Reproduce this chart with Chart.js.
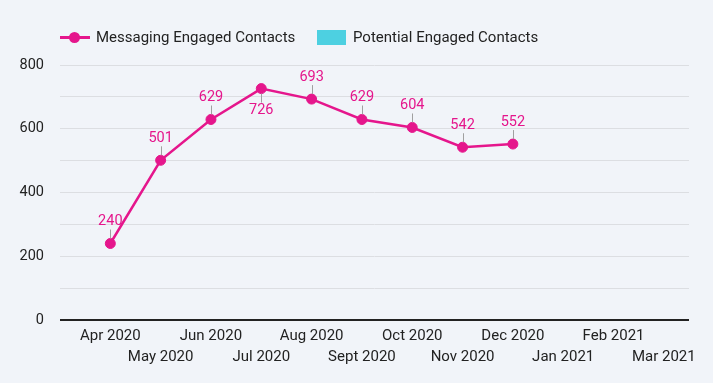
<!DOCTYPE html>
<html>
<head>
<meta charset="utf-8">
<script src="https://cdn.jsdelivr.net/npm/chart.js@4.4.0/dist/chart.umd.min.js"></script>
<style>
  html, body { margin: 0; padding: 0; background: #f1f4f9; }
  #wrap { position: relative; width: 713px; height: 383px; font-family: Roboto, "Noto Sans", sans-serif; }
  #legend { position: absolute; left: 0; top: 27px; height: 20px; font-size: 15px; color: #222; }
  .item { position: absolute; top: 0; white-space: nowrap; line-height: 20px; }
  .line { position: absolute; top: 9px; height: 3px; background: #e5168c; }
  .dot { position: absolute; top: 5px; width: 11px; height: 11px; border-radius: 50%; background: #e5168c; }
  .box { position: absolute; top: 3px; width: 29px; height: 15px; background: #4dd0e1; }
  canvas { position: absolute; left: 0; top: 0; }
</style>
</head>
<body>
<div id="wrap">
  <canvas id="chart" width="713" height="383"></canvas>
  <div id="legend">
    <span class="line" style="left:60px;width:30px"></span>
    <span class="dot" style="left:69px"></span>
    <span class="item" style="left:96px">Messaging Engaged Contacts</span>
    <span class="box" style="left:317px"></span>
    <span class="item" style="left:353px">Potential Engaged Contacts</span>
  </div>
</div>
<script>
// Months on the x axis
const months = ['Apr 2020', 'May 2020', 'Jun 2020', 'Jul 2020', 'Aug 2020', 'Sept 2020',
                'Oct 2020', 'Nov 2020', 'Dec 2020', 'Jan 2021', 'Feb 2021', 'Mar 2021'];
// Messaging Engaged Contacts per month (Apr - Dec 2020)
const messagingEngaged = [240, 501, 629, 726, 693, 629, 604, 542, 552];
// Potential Engaged Contacts (no data shown)
const potentialEngaged = [];
// Labels that sit under the point instead of above it
const labelBelow = [false, false, false, true, false, false, false, false, false];

const pink = '#e5168c';

// Draws value labels with small leader lines
const valueLabels = {
    id: 'valueLabels',
    afterDatasetsDraw(chart) {
        const ctx = chart.ctx;
        const meta = chart.getDatasetMeta(0);
        ctx.save();
        ctx.font = '14.5px Roboto, "Noto Sans", sans-serif';
        ctx.textAlign = 'center';
        ctx.textBaseline = 'middle';
        meta.data.forEach((pt, i) => {
            const dir = labelBelow[i] ? 1 : -1;
            ctx.strokeStyle = '#a0a0a0';
            ctx.lineWidth = 1;
            ctx.beginPath();
            ctx.moveTo(Math.round(pt.x) + 0.5, pt.y + dir * 5);
            ctx.lineTo(Math.round(pt.x) + 0.5, pt.y + dir * 14);
            ctx.stroke();
            ctx.fillStyle = pink;
            ctx.fillText(String(messagingEngaged[i]), pt.x, pt.y + dir * 22);
        });
        ctx.restore();
    }
};

new Chart(document.getElementById('chart'), {
    type: 'line',
    data: {
        datasets: [{
            label: 'Messaging Engaged Contacts',
            data: messagingEngaged.map((v, i) => ({ x: i, y: v })),
            borderColor: pink,
            backgroundColor: pink,
            borderWidth: 2.5,
            pointRadius: 5,
            pointBorderWidth: 1,
            pointHoverRadius: 5,
            tension: 0
        }, {
            label: 'Potential Engaged Contacts',
            data: potentialEngaged,
            backgroundColor: '#4dd0e1'
        }]
    },
    options: {
        responsive: false,
        animation: false,
        layout: { padding: { top: 65, right: 24, left: 0, bottom: 0 } },
        plugins: {
            legend: { display: false },
            tooltip: { enabled: false }
        },
        scales: {
            x: {
                type: 'linear',
                min: -1,
                max: 11.5,
                offset: false,
                afterFit: s => { s.height = 63; },
                // one tick per month
                afterBuildTicks: s => { s.ticks = months.map((m, i) => ({ value: i })); },
                grid: { display: false, drawTicks: false },
                border: { display: false },
                ticks: {
                    autoSkip: false,
                    maxRotation: 0,
                    padding: 6,
                    color: '#222',
                    font: { family: 'Roboto', size: 15, lineHeight: 1.4 },
                    callback: function(value) {
                        const label = months[value];
                        if (!label) return '';
                        return value % 2 === 0 ? [label, ''] : ['', label];
                    }
                }
            },
            y: {
                min: 0,
                max: 800,
                afterFit: s => { s.width = 60; },
                border: { display: false },
                grid: {
                    drawTicks: false,
                    lineWidth: ctx => ctx.tick && ctx.tick.value === 0 ? 2 : 1,
                    color: ctx => ctx.tick && ctx.tick.value === 0 ? '#222' : '#dcdee2'
                },
                ticks: {
                    stepSize: 100,
                    padding: 16,
                    color: '#222',
                    font: { family: 'Roboto', size: 14.5 },
                    callback: v => v % 200 === 0 ? v : ''
                }
            }
        }
    },
    plugins: [valueLabels]
});
</script>
</body>
</html>
